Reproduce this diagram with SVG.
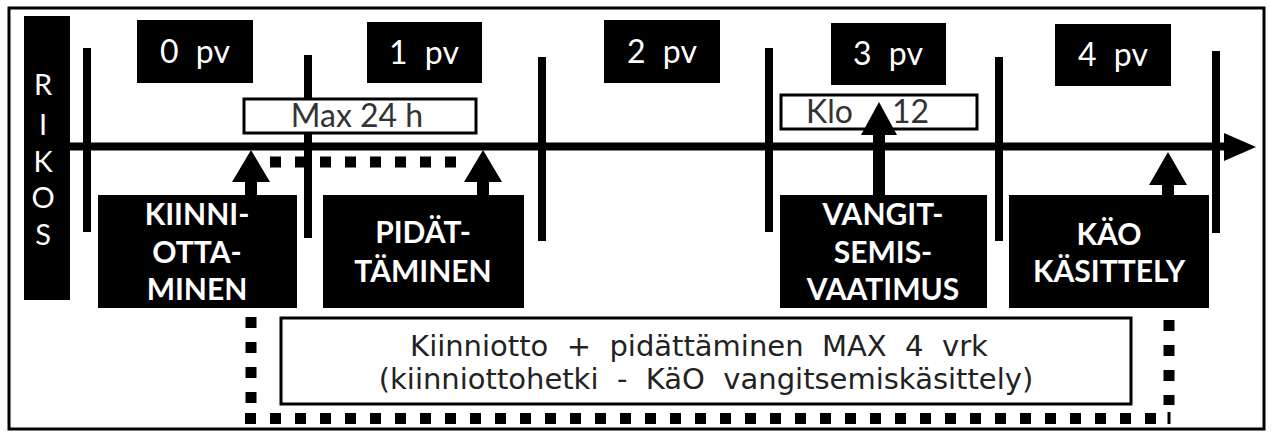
<svg xmlns="http://www.w3.org/2000/svg" width="1272" height="436" viewBox="0 0 1272 436">
<defs>
<style>
.blk{fill:#000}
.day{fill:#fff;font-family:Lato,"DejaVu Sans",sans-serif;font-size:32px;word-spacing:9px;text-anchor:middle}
.lbl{fill:#fff;font-family:Lato,"DejaVu Sans",sans-serif;font-size:30px;font-weight:bold;text-anchor:middle}
.tick{stroke:#000;stroke-width:8;fill:none}
.dots{stroke:#000;stroke-width:11;fill:none;stroke-dasharray:11 14}
.note{fill:#fff;stroke:#000;stroke-width:3}
.ntxt{fill:#222;font-family:"DejaVu Sans",sans-serif;font-size:29px;text-anchor:middle}
.ltxt{fill:#333;font-family:Lato,"DejaVu Sans",sans-serif;font-size:32px}
</style>
</defs>
<rect x="0" y="0" width="1272" height="436" fill="#fff"/>
<rect x="9" y="8" width="1255" height="421" fill="none" stroke="#000" stroke-width="3"/>

<g id="rikos">
<rect class="blk" x="24" y="16" width="46" height="284"/>
<g fill="#fff" font-family="Lato,'DejaVu Sans',sans-serif" font-size="29" text-anchor="middle">
<text x="43" y="95">R</text>
<text x="43" y="135">I</text>
<text x="43" y="172">K</text>
<text x="43" y="208">O</text>
<text x="43" y="245">S</text>
</g>
</g>

<g id="ticks">
<line class="tick" x1="87" y1="48" x2="87" y2="232"/>
<line class="tick" x1="308" y1="55" x2="308" y2="238"/>
<line class="tick" x1="542" y1="57" x2="542" y2="241"/>
<line class="tick" x1="769" y1="48" x2="769" y2="232"/>
<line class="tick" x1="999" y1="57" x2="999" y2="241"/>
<line class="tick" x1="1216" y1="51" x2="1216" y2="233"/>
</g>

<g id="max24"><rect class="note" x="244" y="99" width="232" height="34"/><text class="ltxt" x="357" y="127" text-anchor="middle">Max 24 h</text></g>
<g id="klo12"><rect class="note" x="781" y="95" width="196" height="34"/><text class="ltxt" x="806" y="123">Klo</text><text class="ltxt" x="892" y="123">12</text></g>

<g id="connectors">
<line x1="70" y1="146.5" x2="1228" y2="146.5" stroke="#000" stroke-width="8"/>
<polygon points="1224,133 1256,147 1224,161" fill="#000"/>
<line class="dots" x1="270" y1="162" x2="470" y2="162" stroke-dasharray="10 15" stroke-width="10"/>
<polygon points="232,182 251,150 270,182" fill="#000"/>
<rect x="245" y="180" width="12" height="17" fill="#000"/>
<polygon points="464,182 483,150 502,182" fill="#000"/>
<rect x="477" y="180" width="12" height="17" fill="#000"/>
<polygon points="861,135 879,102 897,135" fill="#000"/>
<rect x="873" y="133" width="12" height="64" fill="#000"/>
<polygon points="1149,185 1168,152 1187,185" fill="#000"/>
<rect x="1162" y="183" width="12" height="14" fill="#000"/>
<line class="dots" x1="251" y1="317" x2="251" y2="405"/>
<line class="dots" x1="245" y1="418.5" x2="1160" y2="418.5"/>
<line class="dots" x1="1169" y1="320" x2="1169" y2="405" stroke-dasharray="12 11"/>
<line x1="1169" y1="412" x2="1169" y2="424" stroke="#000" stroke-width="3"/>
</g>

<g id="day0"><rect class="blk" x="137" y="20" width="116" height="63"/><text class="day" x="195" y="63">0 pv</text></g>
<g id="day1"><rect class="blk" x="367" y="22" width="115" height="61"/><text class="day" x="424" y="64">1 pv</text></g>
<g id="day2"><rect class="blk" x="604" y="20" width="116" height="63"/><text class="day" x="662" y="63">2 pv</text></g>
<g id="day3"><rect class="blk" x="831" y="23" width="115" height="62"/><text class="day" x="888" y="65">3 pv</text></g>
<g id="day4"><rect class="blk" x="1055" y="24" width="116" height="62"/><text class="day" x="1113" y="66">4 pv</text></g>

<g id="kiinniottaminen"><rect class="blk" x="98" y="195" width="199" height="113"/>
<text class="lbl" x="197" y="225">KIINNI-</text><text class="lbl" x="197" y="263">OTTA-</text><text class="lbl" x="197" y="300">MINEN</text></g>
<g id="pidattaminen"><rect class="blk" x="323" y="195" width="201" height="113"/>
<text class="lbl" x="423" y="243">PIDÄT-</text><text class="lbl" x="423" y="282">TÄMINEN</text></g>
<g id="vangitseminen"><rect class="blk" x="780" y="195" width="207" height="113"/>
<text class="lbl" x="883" y="225">VANGIT-</text><text class="lbl" x="883" y="263">SEMIS-</text><text class="lbl" x="883" y="300">VAATIMUS</text></g>
<g id="kao"><rect class="blk" x="1009" y="195" width="200" height="113"/>
<text class="lbl" x="1109" y="245">KÄO</text><text class="lbl" x="1109" y="282">KÄSITTELY</text></g>

<g id="summary"><rect class="note" x="281" y="318" width="850" height="86"/>
<text class="ntxt" x="699" y="356" xml:space="preserve">Kiinniotto  +  pidättäminen  MAX  4  vrk</text>
<text class="ntxt" x="706" y="389" xml:space="preserve">(kiinniottohetki  -  KäO  vangitsemiskäsittely)</text></g>
</svg>
